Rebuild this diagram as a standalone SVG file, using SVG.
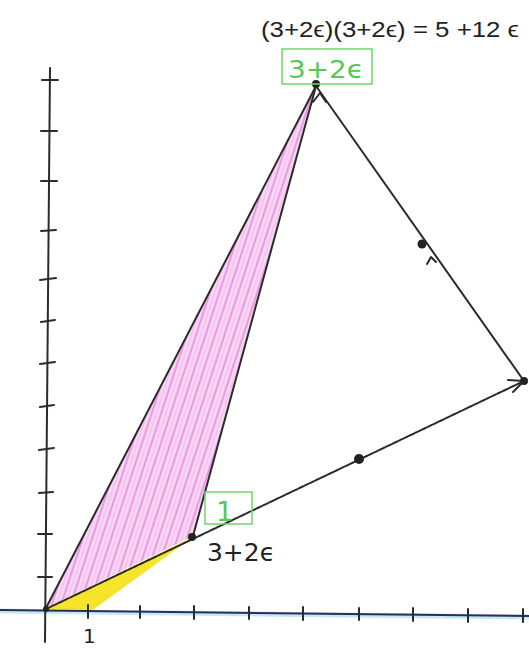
<svg xmlns="http://www.w3.org/2000/svg" width="529" height="650" viewBox="0 0 529 650">
<style>
.ink{stroke:#2b2b2b;fill:none;stroke-width:2;stroke-linecap:round;stroke-linejoin:round}
.tick{stroke:#2b2b2b;stroke-width:2;stroke-linecap:round}
.dot{fill:#222}
.hand{font-family:"DejaVu Sans","Liberation Sans",sans-serif;fill:#222}
.top{font-family:"Liberation Sans","DejaVu Sans",sans-serif;fill:#222}
.green{stroke:#6fd46f;stroke-width:1.5;fill:none}
.gtext{font-family:"DejaVu Sans","Liberation Sans",sans-serif;fill:#55c855}
</style>
<defs>
<pattern id="hatch" width="9" height="9" patternUnits="userSpaceOnUse" patternTransform="rotate(18)">
<rect width="9" height="9" fill="#f8d8f4"/>
<line x1="2" y1="0" x2="2" y2="9" stroke="#ec9ae3" stroke-width="2.2"/>
<line x1="6.5" y1="0" x2="6.5" y2="9" stroke="#f3bdee" stroke-width="1.4"/>
</pattern>
</defs>
<rect width="529" height="650" fill="#fff"/>

<g id="regions">
<polygon points="46,608 316,86 193,536" fill="url(#hatch)"/>
<polygon points="46,609 193,537 90,612" fill="#f6e42a"/>
</g>

<g id="axes">
<line x1="0" y1="611" x2="529" y2="617" stroke="#c6e8f5" stroke-width="5"/>
<line x1="0" y1="610" x2="529" y2="616" stroke="#2a2f5a" stroke-width="2"/>
<line x1="50" y1="68" x2="45" y2="642" class="ink"/>
<g>
<line x1="42" y1="80" x2="58" y2="80" class="tick"/>
<line x1="41" y1="131" x2="57" y2="131" class="tick"/>
<line x1="41" y1="181" x2="57" y2="181" class="tick"/>
<line x1="41" y1="231" x2="56" y2="230" class="tick"/>
<line x1="40" y1="280" x2="56" y2="278" class="tick"/>
<line x1="41" y1="322" x2="55" y2="320" class="tick"/>
<line x1="40" y1="364" x2="55" y2="362" class="tick"/>
<line x1="40" y1="407" x2="54" y2="405" class="tick"/>
<line x1="39" y1="450" x2="54" y2="448" class="tick"/>
<line x1="39" y1="493" x2="53" y2="492" class="tick"/>
<line x1="38" y1="534" x2="52" y2="534" class="tick"/>
<line x1="38" y1="577" x2="52" y2="577" class="tick"/>
</g>
<g>
<line x1="88" y1="605" x2="88" y2="618" class="tick"/>
<line x1="140" y1="606" x2="140" y2="618" class="tick"/>
<line x1="194" y1="606" x2="194" y2="619" class="tick"/>
<line x1="249" y1="607" x2="249" y2="619" class="tick"/>
<line x1="303" y1="607" x2="303" y2="620" class="tick"/>
<line x1="359" y1="608" x2="359" y2="620" class="tick"/>
<line x1="413" y1="608" x2="413" y2="621" class="tick"/>
<line x1="468" y1="609" x2="468" y2="622" class="tick"/>
<line x1="523" y1="609" x2="523" y2="622" class="tick"/>
</g>
<text x="83" y="643" class="hand" font-size="20">1</text>
</g>

<g id="connectors">
<line x1="46" y1="608" x2="316" y2="86" class="ink"/>
<line x1="316" y1="86" x2="193" y2="536" class="ink"/>
<line x1="46" y1="609" x2="524" y2="381" class="ink" stroke-dasharray="5 1.5"/>
<line x1="524" y1="381" x2="316" y2="86" class="ink"/>
<polyline points="508,380 524,381 513,392" class="ink"/>
<polyline points="313,102 320,93 326,102" class="ink"/>
<polyline points="427,264 431,257 436,262" class="ink"/>
</g>

<g id="origin">
<circle cx="46" cy="609" r="3" class="dot"/>
</g>

<g id="p1">
<circle cx="192" cy="537" r="4" class="dot"/>
<rect x="205" y="492" width="47" height="32" class="green"/>
<text x="216" y="521" class="gtext" font-size="27">1</text>
<text x="207" y="561" class="hand" font-size="24" textLength="68" lengthAdjust="spacingAndGlyphs">3+2ϵ</text>
</g>

<g id="p2">
<circle cx="316" cy="84" r="4" class="dot"/>
<rect x="282" y="49" width="90" height="35" class="green"/>
<text x="288" y="78" class="gtext" font-size="25" textLength="76" lengthAdjust="spacingAndGlyphs">3+2ϵ</text>
<text x="261" y="37" class="top" font-size="22" textLength="258" lengthAdjust="spacingAndGlyphs">(3+2ϵ)(3+2ϵ) = 5 +12 ϵ</text>
</g>

<g id="p3">
<circle cx="524" cy="381" r="4" class="dot"/>
</g>

<g id="mids">
<circle cx="359" cy="459" r="5" class="dot"/>
<circle cx="422" cy="244" r="4.5" class="dot"/>
</g>
</svg>
